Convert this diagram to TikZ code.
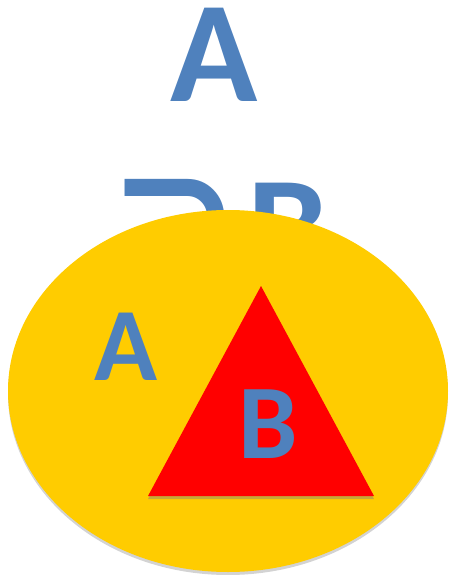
\documentclass[tikz,border=0pt]{standalone}
\usepackage{fontspec}
\setmainfont{Carlito}
\newfontfamily\symfont{DejaVu Sans}
\usetikzlibrary{shapes.geometric,shadows}
\definecolor{txtblue}{HTML}{4F81BD}
\definecolor{setyellow}{HTML}{FFCC00}
\definecolor{setred}{HTML}{FF0000}
\tikzset{
  lbl/.style={text=txtblue, font=\bfseries, inner sep=0pt, anchor=base},
  setA/.style={ellipse, fill=setyellow, inner sep=0pt, minimum width=440pt, minimum height=362pt,
     drop shadow={opacity=0.35, shadow xshift=0pt, shadow yshift=-3pt}},
  setB/.style={fill=setred, drop shadow={opacity=0.45, shadow xshift=0pt, shadow yshift=-3pt}}
}
\begin{document}
\begin{tikzpicture}[x=1pt,y=-1pt]
\useasboundingbox (0,0) rectangle (448,575);
% title text
\node[lbl, font=\bfseries\fontsize{144}{144}\selectfont, text height=93pt, text depth=0pt] (title) at (214,102) {A};
\node[lbl, anchor=base west, font=\bfseries\fontsize{144}{144}\selectfont] (rel) at (125,276)
  {\kern-16pt\raisebox{10pt}{\symfont\fontsize{156}{156}\selectfont ⊃}\kern8pt B};
% set A
\node[setA] (A) at (228,391) {};
% set B triangle
\coordinate (apex) at (261,286);
\coordinate (bl) at (148,496);
\coordinate (br) at (374,496);
\path[setB] (apex) -- (br) -- (bl) -- cycle;
% labels
\node[lbl, font=\bfseries\fontsize{104}{104}\selectfont] (la) at (126,380) {A};
\node[lbl, font=\bfseries\fontsize{106}{106}\selectfont] (lb) at (268,458) {B};
\end{tikzpicture}
\end{document}
